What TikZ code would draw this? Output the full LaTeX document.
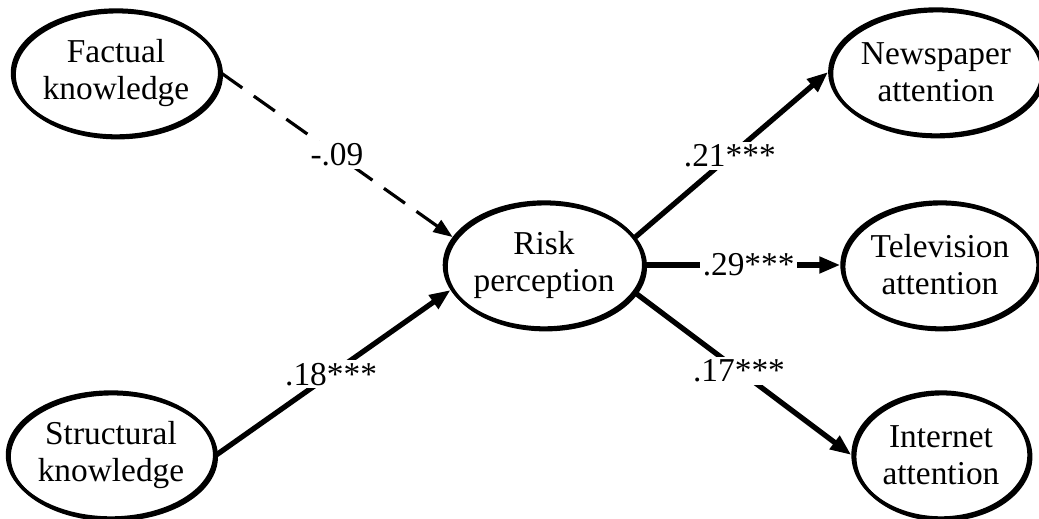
\documentclass[tikz,border=0pt]{standalone}
\usepackage{fontspec}
\setmainfont{Liberation Serif}
\usetikzlibrary{shapes.geometric,arrows.meta}

\tikzset{
  latent/.style={ellipse, draw, line width=1.9pt, inner sep=0pt, align=center,
    font=\fontsize{19}{21}\selectfont,
    preaction={draw, line width=1.9pt, transform canvas={shift={(1pt,-1pt)}}}},
  path/.style={line width=3pt, -{Triangle[length=12pt,width=9pt]}},
  npath/.style={line width=1.8pt, dash pattern=on 14.7pt off 8pt,
    -{Triangle[length=11pt,width=8pt]}},
  coef/.style={fill=white, inner sep=1.5pt, font=\fontsize{19}{21}\selectfont}
}

\begin{document}
\begin{tikzpicture}[x=0.02cm, y=-0.02cm]
  \useasboundingbox (0,0) rectangle (1039,519);

  % latent variables
  \node[latent, minimum width=4.12cm, minimum height=2.52cm] (fact)   at (116,73)  {Factual\\knowledge};
  \node[latent, minimum width=4.12cm, minimum height=2.52cm] (struct) at (111,455) {Structural\\knowledge};
  \node[latent, minimum width=3.96cm, minimum height=2.52cm] (risk)   at (544,265) {Risk\\perception};
  \node[latent, minimum width=4.08cm, minimum height=2.52cm] (news)   at (936,72)  {Newspaper\\attention};
  \node[latent, minimum width=3.92cm, minimum height=2.52cm] (tv)     at (940,265) {Television\\attention};
  \node[latent, minimum width=3.52cm, minimum height=2.52cm] (inet)   at (941,455) {Internet\\attention};

  % structural paths with standardized coefficients
  \draw[npath] (fact.east)   -- node[coef, pos=.5]  {-.09}    (risk.163);
  \draw[path]  (struct.east) -- node[coef, pos=.49] {.18***}  (risk.195);
  \draw[path]  (risk.17)     -- node[coef, pos=.49] {.21***}  (news.west);
  \draw[path]  (risk.east)   -- node[coef, pos=.53] {.29***}  (tv.west);
  \draw[path]  (risk.343)    -- node[coef, pos=.48] {.17***}  (inet.west);
\end{tikzpicture}
\end{document}
